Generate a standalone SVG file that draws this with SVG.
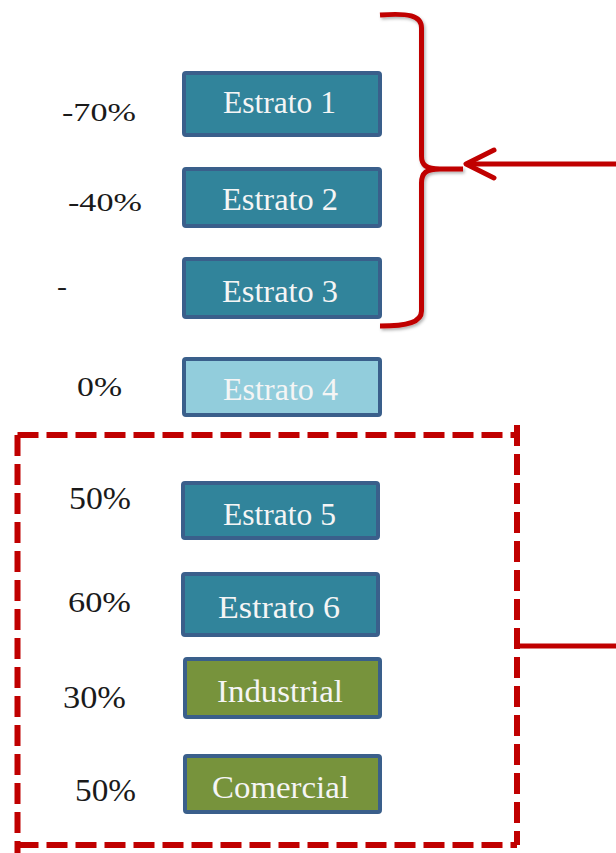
<svg xmlns="http://www.w3.org/2000/svg" width="616" height="853" viewBox="0 0 616 853">
  <style>
    .box { stroke: #3a5f8b; stroke-width: 4; }
    .teal { fill: #31849b; }
    .light { fill: #92cddc; }
    .green { fill: #77933c; }
    .bt { font-family: "Liberation Serif", "Times New Roman", serif; fill: #f5f5f5; font-size: 31px; }
    .pct { font-family: "Liberation Serif", "Times New Roman", serif; fill: #1a1a1a; }
    .red { stroke: #c00000; fill: none; stroke-width: 5; }
    .dash { stroke: #c00000; fill: none; stroke-width: 6; stroke-dasharray: 21 8; }
  </style>
  <defs>
    <filter id="sh" x="-20%" y="-20%" width="140%" height="140%">
      <feDropShadow dx="1.5" dy="2" stdDeviation="1.5" flood-color="#000" flood-opacity="0.3"/>
    </filter>
  </defs>
  <rect width="616" height="853" fill="#ffffff"/>

  <g id="labels">
    <text class="pct" x="62" y="121" font-size="26" textLength="74" lengthAdjust="spacingAndGlyphs">-70%</text>
    <text class="pct" x="68" y="211" font-size="26" textLength="74" lengthAdjust="spacingAndGlyphs">-40%</text>
    <text class="pct" x="57" y="295" font-size="26" textLength="10" lengthAdjust="spacingAndGlyphs">-</text>
    <text class="pct" x="77" y="396" font-size="28" textLength="45" lengthAdjust="spacingAndGlyphs">0%</text>
    <text class="pct" x="69" y="509" font-size="31" textLength="62" lengthAdjust="spacingAndGlyphs">50%</text>
    <text class="pct" x="68" y="612" font-size="30" textLength="63" lengthAdjust="spacingAndGlyphs">60%</text>
    <text class="pct" x="63" y="708" font-size="31" textLength="63" lengthAdjust="spacingAndGlyphs">30%</text>
    <text class="pct" x="75" y="801" font-size="31" textLength="61" lengthAdjust="spacingAndGlyphs">50%</text>
  </g>

  <g id="estrato1">
    <rect class="box teal" x="184" y="73" width="196" height="62" rx="2"/>
    <text class="bt" x="223" y="113" font-size="30" textLength="113" lengthAdjust="spacingAndGlyphs">Estrato 1</text>
  </g>
  <g id="estrato2">
    <rect class="box teal" x="184" y="169" width="196" height="57" rx="2"/>
    <text class="bt" x="222" y="210" font-size="30" textLength="116" lengthAdjust="spacingAndGlyphs">Estrato 2</text>
  </g>
  <g id="estrato3">
    <rect class="box teal" x="184" y="259" width="196" height="58" rx="2"/>
    <text class="bt" x="222" y="302" font-size="30" textLength="116" lengthAdjust="spacingAndGlyphs">Estrato 3</text>
  </g>
  <g id="estrato4">
    <rect class="box light" x="184" y="359" width="196" height="56" rx="2"/>
    <text class="bt" x="223" y="400" font-size="32" textLength="115" lengthAdjust="spacingAndGlyphs">Estrato 4</text>
  </g>
  <g id="estrato5">
    <rect class="box teal" x="183" y="483" width="195" height="55" rx="2"/>
    <text class="bt" x="223" y="525" font-size="32" textLength="113" lengthAdjust="spacingAndGlyphs">Estrato 5</text>
  </g>
  <g id="estrato6">
    <rect class="box teal" x="183" y="574" width="195" height="61" rx="2"/>
    <text class="bt" x="218" y="618" font-size="31" textLength="122" lengthAdjust="spacingAndGlyphs">Estrato 6</text>
  </g>
  <g id="industrial">
    <rect class="box green" x="185" y="659" width="195" height="58" rx="2"/>
    <text class="bt" x="217" y="702" font-size="32" textLength="126" lengthAdjust="spacingAndGlyphs">Industrial</text>
  </g>
  <g id="comercial">
    <rect class="box green" x="185" y="756" width="195" height="56" rx="2"/>
    <text class="bt" x="212" y="798" font-size="32" textLength="137" lengthAdjust="spacingAndGlyphs">Comercial</text>
  </g>

  <g id="connectors">
    <path class="red" filter="url(#sh)" d="M380,15 C408,13 421.5,15 421.5,28 L421.5,156 C421.5,165 426,169 440,169 L463,169 M440,169 C426,169 421.5,173 421.5,183 L421.5,311 C421.5,322 408,326 380,326"/>
    <line class="red" x1="468" y1="164" x2="616" y2="164"/>
    <polyline class="red" stroke-linecap="round" stroke-linejoin="round" points="494,150 466,164 494,178"/>
    <line class="dash" x1="17.5" y1="435" x2="517" y2="435"/>
    <line class="dash" x1="517" y1="425" x2="517" y2="845"/>
    <line class="dash" x1="17.5" y1="845" x2="517" y2="845"/>
    <line class="dash" x1="17.5" y1="435" x2="17.5" y2="853"/>
    <line class="red" stroke-width="6" x1="519" y1="646" x2="616" y2="646"/>
  </g>
</svg>
